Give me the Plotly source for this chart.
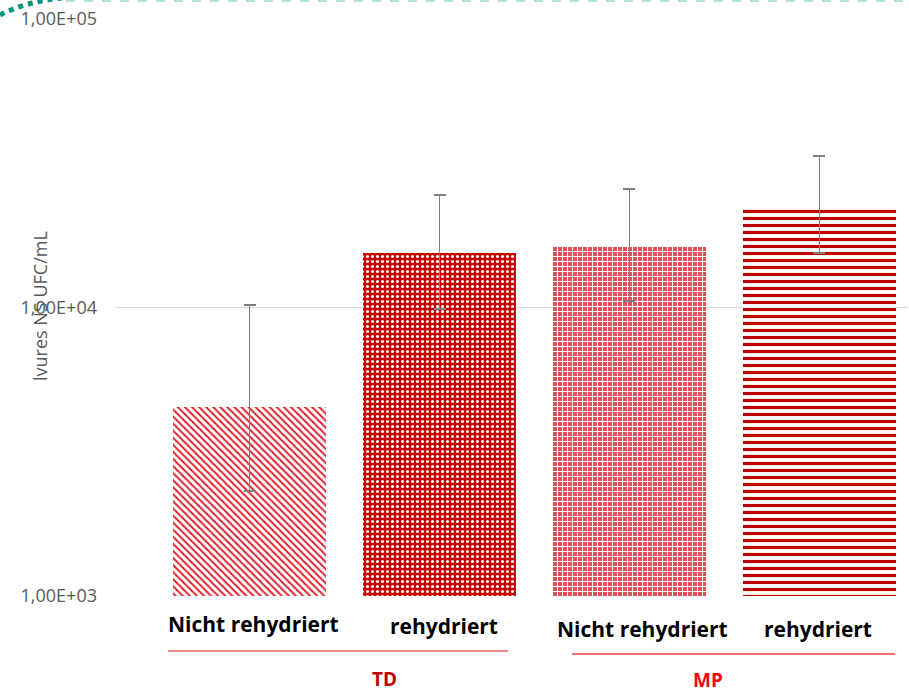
import plotly.graph_objects as go

categories = ["Nicht rehydriert", "rehydriert", "Nicht rehydriert", "rehydriert"]
groups = ["TD", "MP"]
values = [4520, 15450, 16330, 22280]
err_upper = [10200, 24550, 25760, 33500]
err_lower = [2310, 9900, 10530, 15450]
tick_vals = [1000, 10000, 100000]
tick_text = ["1,00E+03", "1,00E+04", "1,00E+05"]
y_title = "lvures NS UFC/mL"

W, H = 909, 693
L, R, T, B = 115, 1, 19, 97
PW, PH = W - L - R, H - T - B

def px(x):
    return (x - L) / PW

def py(y):
    return (H - B - y) / PH

patterns = [
    dict(shape="\\", fgcolor="#e0202a", bgcolor="white", size=5, solidity=0.4, fillmode="replace"),
    dict(shape=".", fgcolor="white", bgcolor="#c80000", size=5, solidity=0.3, fillmode="replace"),
    dict(shape="+", fgcolor="white", bgcolor="#e0505a", size=5, solidity=0.35, fillmode="replace"),
    dict(shape="-", fgcolor="#c00000", bgcolor="white", size=7, solidity=0.45, fillmode="replace"),
]

fig = go.Figure()
xs = list(range(len(categories)))
for i in xs:
    fig.add_trace(go.Bar(
        x=[i], y=[values[i]], width=0.805,
        marker=dict(pattern=patterns[i], line=dict(width=0)),
        error_y=dict(type="data", symmetric=False,
                     array=[err_upper[i] - values[i]],
                     arrayminus=[values[i] - err_lower[i]],
                     color="#808080", thickness=1.5, width=6),
        showlegend=False,
    ))

fig.update_layout(
    width=W, height=H,
    margin=dict(l=L, r=R, t=T, b=B),
    paper_bgcolor="white", plot_bgcolor="white",
    font=dict(family="Open Sans", color="#595959"),
    xaxis=dict(range=[-0.708, 3.466], showticklabels=False, showgrid=False,
               zeroline=False, showline=False, ticks=""),
    yaxis=dict(type="log", range=[3, 5], tickvals=tick_vals, ticktext=tick_text,
               showgrid=True, gridcolor="#d9d9d9", gridwidth=1, zeroline=False,
               showline=False, ticks="", ticklabelstandoff=17,
               tickfont=dict(size=18, color="#595959", family="Open Sans")),
    bargap=0,
)

# y-axis title
fig.add_annotation(text=y_title, xref="paper", yref="paper", x=px(40), y=py(306),
                   textangle=-90, showarrow=False, xanchor="center", yanchor="middle",
                   font=dict(size=18, color="#595959", family="Open Sans"))

# category labels
label_pos = [(0.02, 624), (0.025, 626), (0.07, 629), (-0.01, 629)]
for i, c in enumerate(categories):
    dx, yy = label_pos[i]
    fig.add_annotation(text="<b>%s</b>" % c, xref="x", yref="paper", x=i + dx, y=py(yy),
                       showarrow=False, xanchor="center", yanchor="middle",
                       font=dict(size=21, color="black", family="Open Sans"))

# group lines and labels
group_lines = [(168, 508, 651, "#e06060"), (572, 895, 654, "#f04040")]
group_label = [(384, 679, "#c00000"), (708, 680, "#ff0000")]
for g, (x0, x1, yl, lc), (lx, ly, tc) in zip(groups, group_lines, group_label):
    fig.add_shape(type="line", xref="paper", yref="paper", x0=px(x0), x1=px(x1),
                  y0=py(yl), y1=py(yl), line=dict(color=lc, width=1.5))
    fig.add_annotation(text="<b>%s</b>" % g, xref="paper", yref="paper", x=px(lx), y=py(ly),
                       showarrow=False, xanchor="center", yanchor="middle",
                       font=dict(size=19, color=tc, family="Open Sans"))

# decorative teal dotted border in corner
fig.add_shape(type="path", xref="paper", yref="paper",
              path="M %f,%f Q %f,%f %f,%f" % (px(0), py(15), px(25), py(2), px(62), py(-2)),
              line=dict(color="#00957a", width=5, dash="dot"))
fig.add_shape(type="line", xref="paper", yref="paper", x0=px(66), x1=px(909),
              y0=py(1), y1=py(1), line=dict(color="#b2e3da", width=2, dash="dash"))

fig.write_html("out.html")
